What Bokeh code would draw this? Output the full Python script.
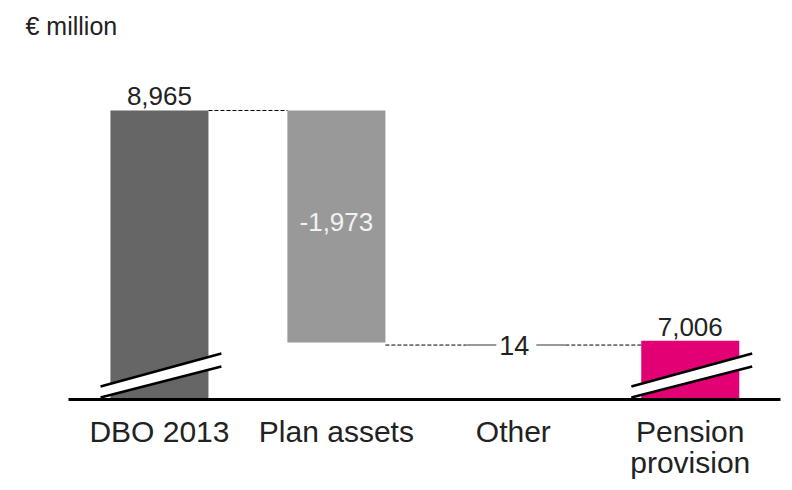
from bokeh.plotting import figure
from bokeh.models import LinearAxis, FixedTicker, Range1d, Title
from bokeh.core.properties import value
from bokeh.embed import file_html
from bokeh.resources import INLINE

# ---- data ----
categories = ["DBO 2013", "Plan assets", "Other", "Pension\nprovision"]
changes = [8965, -1973, 14, 7006]
value_labels = ["8,965", "-1,973", "14", "7,006"]
unit_label = "€ million"

dbo = changes[0]
after_assets = changes[0] + changes[1]          # 6,992
pension = changes[3]

FONT = "Liberation Sans"
xs = list(range(len(categories)))
BW = 0.554

p = figure(width=784, height=482, output_backend="svg", toolbar_location=None,
           x_axis_type=None, y_axis_type=None,
           x_range=Range1d(-0.514, 3.51), y_range=Range1d(6507, 9475),
           min_border_left=68, min_border_right=4, min_border_top=50, min_border_bottom=83)
p.outline_line_color = None
p.xgrid.visible = False
p.ygrid.visible = False
p.background_fill_color = "white"

t = Title(text=unit_label, align="left", vertical_align="top", offset=-43, text_font=FONT,
          text_font_size="25px", text_font_style="normal", text_color="#222222",
          text_line_height=1.0, standoff=18)
p.add_layout(t, "above")

# bars
p.vbar(x=[xs[0]], width=BW, bottom=0, top=dbo, fill_color="#666666", line_color=None)
p.vbar(x=[xs[1]], width=BW, bottom=after_assets, top=dbo, fill_color="#999999", line_color=None)
p.vbar(x=[xs[3]], width=BW, bottom=0, top=pension, fill_color="#e20074", line_color=None)

# axis-break marks on truncated bars
for c in (xs[0], xs[3]):
    xl, xr = c - 0.333, c + 0.350
    p.patch([xl, xr, xr, xl], [6618, 6898, 6788, 6524], fill_color="white", line_color=None)
    p.multi_line([[xl, xr], [xl, xr]], [[6618, 6898], [6524, 6788]], line_color="black", line_width=2.5)

# connectors
p.line([xs[0] + BW / 2, xs[1] - BW / 2], [dbo, dbo], line_color="black", line_width=1, line_dash="4 2")
lvl = after_assets - 22
p.line([xs[1] + BW / 2, 1.734], [lvl, lvl], line_color="black", line_width=1, line_dash="4 2")
p.line([2.294, xs[3] - BW / 2], [lvl, lvl], line_color="black", line_width=1, line_dash="4 2")
p.multi_line([[1.734, 1.904], [2.13, 2.294]], [[lvl, lvl], [lvl, lvl]], line_color="#999999", line_width=2)

# value labels
p.text(x=[xs[0], xs[3]], y=[dbo, pension], text=[value_labels[0], value_labels[3]],
       text_align="center", text_baseline="bottom", y_offset=-5,
       text_font=value(FONT), text_font_size="26px", text_color="#222222")
p.text(x=[xs[1]], y=[(dbo + after_assets) / 2], text=[value_labels[1]],
       text_align="center", text_baseline="middle", y_offset=-4,
       text_font=value(FONT), text_font_size="26px", text_color="#f2f2f2")
p.text(x=[xs[2]], y=[lvl], text=[value_labels[2]],
       text_align="center", text_baseline="middle", x_offset=1,
       text_font=value(FONT), text_font_size="27px", text_color="#222222")

# category axis
ax = LinearAxis(ticker=FixedTicker(ticks=xs),
                major_label_overrides={i: c for i, c in zip(xs, categories)})
ax.axis_line_color = "black"
ax.axis_line_width = 3
ax.major_tick_line_color = None
ax.minor_tick_line_color = None
ax.major_label_text_font = FONT
ax.major_label_text_font_size = "30px"
ax.major_label_text_line_height = 0.95
ax.major_label_text_color = "#222222"
ax.major_label_standoff = 9
p.add_layout(ax, "below")

open("out.html", "w").write(file_html(p, INLINE))
